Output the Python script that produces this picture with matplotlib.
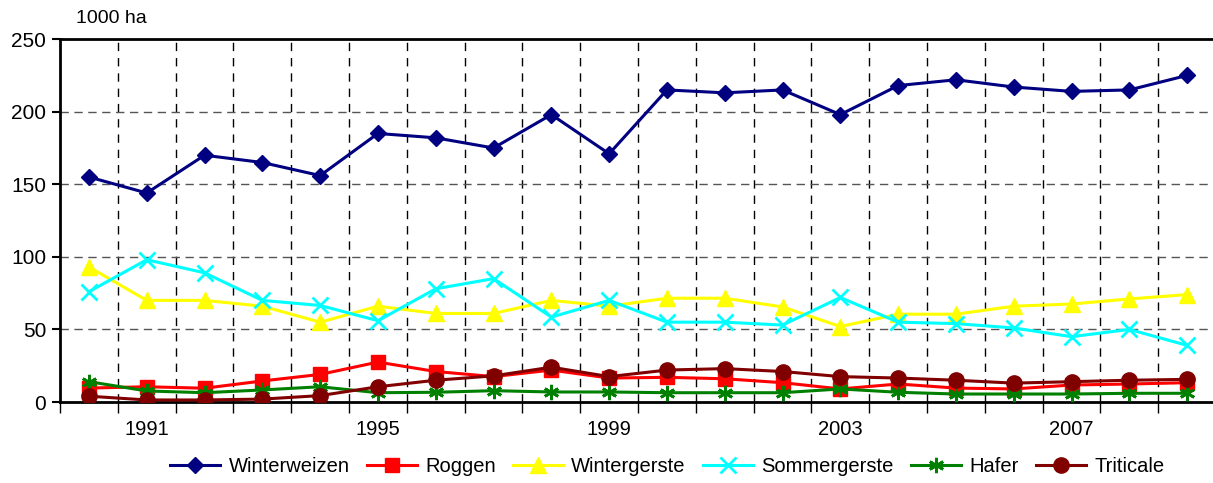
import matplotlib
matplotlib.use("Agg")
import matplotlib.pyplot as plt
import numpy as np

plt.rcParams['font.family'] = ['Liberation Sans', 'DejaVu Sans']

years = list(range(1990, 2010))
winterweizen = [155, 144, 170, 165, 156, 185, 182, 175, 198, 171,
                215, 213, 215, 198, 218, 222, 217, 214, 215, 225]
roggen = [9.6, 10.5, 9.5, 14.5, 19, 27.5, 21, 17.5, 22, 16.5,
          17, 16, 13.3, 9, 12.4, 9.6, 9, 11.7, 12.4, 13.3]
wintergerste = [93, 70, 70, 66, 55, 66, 61, 61, 70, 66,
                71.5, 71.5, 65.5, 52, 60.5, 60.5, 66, 67.5, 71, 74]
sommergerste = [76, 98, 89, 70, 66.5, 56, 78, 85, 58.5, 70,
                55, 55, 53, 72, 55, 54, 51, 45, 50, 39]
hafer = [14, 7.6, 6.4, 8.3, 10.5, 6.4, 6.7, 7.8, 6.9, 6.9,
         6.4, 6.4, 6.4, 9, 6.7, 5.5, 5.5, 5.5, 6, 6]
triticale = [4, 1.4, 1.4, 2, 4.4, 10.5, 15, 18, 24, 17.5,
             22, 23, 21, 17.5, 16.5, 15, 13, 14, 15, 15.6]

fig = plt.figure(figsize=(12.13, 4.83), dpi=100)
ax = fig.add_axes([0.0495, 0.1677, 0.953, 0.7513])

x = np.arange(len(years))
series = [
    ("Winterweizen", winterweizen, "#000080", "D", 8, {}),
    ("Roggen", roggen, "#FF0000", "s", 10, {}),
    ("Wintergerste", wintergerste, "#FFFF00", "^", 11, {}),
    ("Sommergerste", sommergerste, "#00FFFF", "x", 11, {"markeredgewidth": 2}),
    ("Hafer", hafer, "#008000", (6, 2, 0), 11, {"markeredgewidth": 2}),
    ("Triticale", triticale, "#800000", "o", 11, {}),
]
for name, vals, col, mk, ms, kw in series:
    ax.plot(x, vals, color=col, lw=2.2, marker=mk, markersize=ms,
            markerfacecolor=col, markeredgecolor=col, label=name, zorder=3, **kw)

ax.set_xlim(-0.5, len(years) - 0.5)
ax.set_ylim(0, 250)
ax.set_yticks([0, 50, 100, 150, 200, 250])

# vertical dashed grid at category boundaries
for b in np.arange(0.5, len(years) - 0.5, 1):
    ax.axvline(b, color='black', lw=1, ls=(0, (6, 5)), zorder=1)
for yv in [50, 100, 150, 200]:
    ax.axhline(yv, color='#555555', lw=1, ls=(0, (6, 4)), zorder=1)

ax.set_xticks(np.arange(-0.5, len(years), 1), minor=True)
ax.set_xticks([1, 5, 9, 13, 17])
ax.set_xticklabels([str(years[i]) for i in [1, 5, 9, 13, 17]], fontsize=14.5)
ax.tick_params(axis='x', which='major', length=0, pad=13)
ax.tick_params(axis='x', which='minor', length=8, width=1, direction='out')
ax.tick_params(axis='y', labelsize=15, length=6, width=1.5, direction='out', pad=4)

for s in ['left', 'bottom', 'top']:
    ax.spines[s].set_linewidth(2)
ax.spines['right'].set_visible(False)

fig.text(0.063, 0.945, "1000 ha", fontsize=14, ha='left', va='bottom')

fig.legend(loc='center', bbox_to_anchor=(0.55, 0.035), ncol=6, frameon=False,
           fontsize=14.5, handlelength=2.5, columnspacing=0.85, handletextpad=0.4)

fig.savefig("out.png", dpi=100)
